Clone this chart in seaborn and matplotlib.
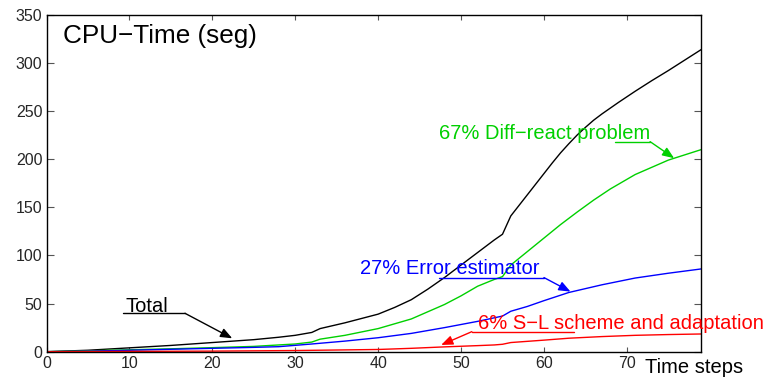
import matplotlib
matplotlib.use("Agg")
import matplotlib.pyplot as plt
import seaborn as sns
import pandas as pd

# CPU time (seconds) accumulated per time step
steps_total = [0, 5, 10, 15, 20, 25, 28, 30, 32, 33, 36, 40, 42, 44, 46, 48, 50, 52, 54, 55, 56,
               58, 60, 61, 62, 63, 64, 65, 66, 67, 69, 71, 73, 75, 77, 79]
cpu_total = [0, 1.5, 4, 6.5, 9.5, 12.5, 15, 17, 20, 24, 30, 39, 46, 54, 65, 77, 90, 103, 116, 122, 141,
             163, 185, 196, 206.5, 216, 225, 233, 240.5, 247, 259, 270.5, 281.5, 292, 303, 314]

steps_diff = [0, 5, 10, 15, 20, 25, 28, 30, 32, 33, 36, 40, 44, 48, 50, 52, 54, 55, 56,
              58, 60, 62, 64, 66, 68, 71, 75, 79]
cpu_diff = [0, 0.8, 2, 3, 4.2, 5.5, 7, 8, 10, 13, 17, 24, 34, 49, 58, 68, 75, 78, 90,
            104, 118, 132, 145, 157.5, 169, 184, 199, 210]

steps_err = [0, 5, 10, 15, 20, 25, 28, 32, 36, 40, 44, 48, 52, 55, 56, 58, 60, 63, 67, 71, 75, 79]
cpu_err = [0, 0.5, 1.5, 2.5, 3.5, 4.5, 5.2, 8, 11, 14.5, 19, 25, 31.5, 37, 42, 47, 53, 61.5, 69.5, 76.5, 81.5, 86]

steps_sl = [0, 10, 20, 30, 40, 44, 48, 52, 54, 55, 56, 60, 63, 67, 71, 75, 79]
cpu_sl = [0, 0.3, 0.6, 1.2, 2.3, 3.5, 5, 6.3, 7, 7.7, 9.5, 12, 14, 15.7, 17, 17.8, 18.4]

x_ticks = [0, 10, 20, 30, 40, 50, 60, 70]
y_ticks = [0, 50, 100, 150, 200, 250, 300, 350]

GREEN = "#00d000"

sns.set_style("ticks")
plt.rcParams["font.family"] = ["Liberation Sans", "DejaVu Sans"]

fig = plt.figure(figsize=(7.70, 3.78), dpi=100)
ax = fig.add_axes([0.0604, 0.0696, 0.911 - 0.0604, 0.961 - 0.0696])

series = [
    (steps_total, cpu_total, "black"),
    (steps_diff, cpu_diff, GREEN),
    (steps_err, cpu_err, "blue"),
    (steps_sl, cpu_sl, "red"),
]
for xs, ys, col in series:
    df = pd.DataFrame({"step": xs, "cpu": ys})
    sns.lineplot(data=df, x="step", y="cpu", color=col, linewidth=1.0, ax=ax)

ax.set_xlim(0, 79)
ax.set_ylim(0, 350)
ax.set_xticks(x_ticks)
ax.set_yticks(y_ticks)
ax.set_xlabel("")
ax.set_ylabel("")
ax.tick_params(direction="in", top=True, right=True, labelsize=11.5,
               color="#555555", width=0.8, pad=3)
ax.tick_params(axis="y", length=5)
ax.tick_params(axis="x", length=3.5)
for sp in ax.spines.values():
    sp.set_visible(True)
    sp.set_color("black")
    sp.set_linewidth(1.0)

ax.text(2.0, 321, "CPU\u2212Time (seg)", fontsize=18.8, color="black", va="baseline")
ax.text(72.2, -21.8, "Time steps", fontsize=14.5, color="black", va="baseline", clip_on=False)


def label_arrow(text, text_xy, line_x, line_y, tip, color):
    ax.text(text_xy[0], text_xy[1], text, fontsize=14.5, color=color,
            va="baseline", clip_on=False, zorder=5)
    ax.plot(line_x, [line_y, line_y], color=color, linewidth=1.0,
            clip_on=False, zorder=5)
    start = line_x[1] if tip[0] > line_x[1] else line_x[0]
    ax.annotate("", xy=tip, xytext=(start, line_y),
                arrowprops=dict(arrowstyle="-|>,head_length=0.5,head_width=0.2",
                                color=color, lw=1.0, mutation_scale=14,
                                shrinkA=0, shrinkB=0), zorder=5)


label_arrow("Total", (9.5, 41.6), [9.2, 16.7], 39.9, (22.4, 13.9), "black")
label_arrow("67% Diff\u2212react problem", (47.3, 221), [68.6, 72.8], 218.2, (75.7, 201), GREEN)
label_arrow("27% Error estimator", (37.8, 80.8), [47.3, 60.0], 77.0, (63.2, 62.4), "blue")
label_arrow("6% S\u2212L scheme and adaptation", (52.0, 23.3), [51.3, 63.6], 20.8, (47.6, 7.0), "red")

fig.savefig("out.png", dpi=100)
